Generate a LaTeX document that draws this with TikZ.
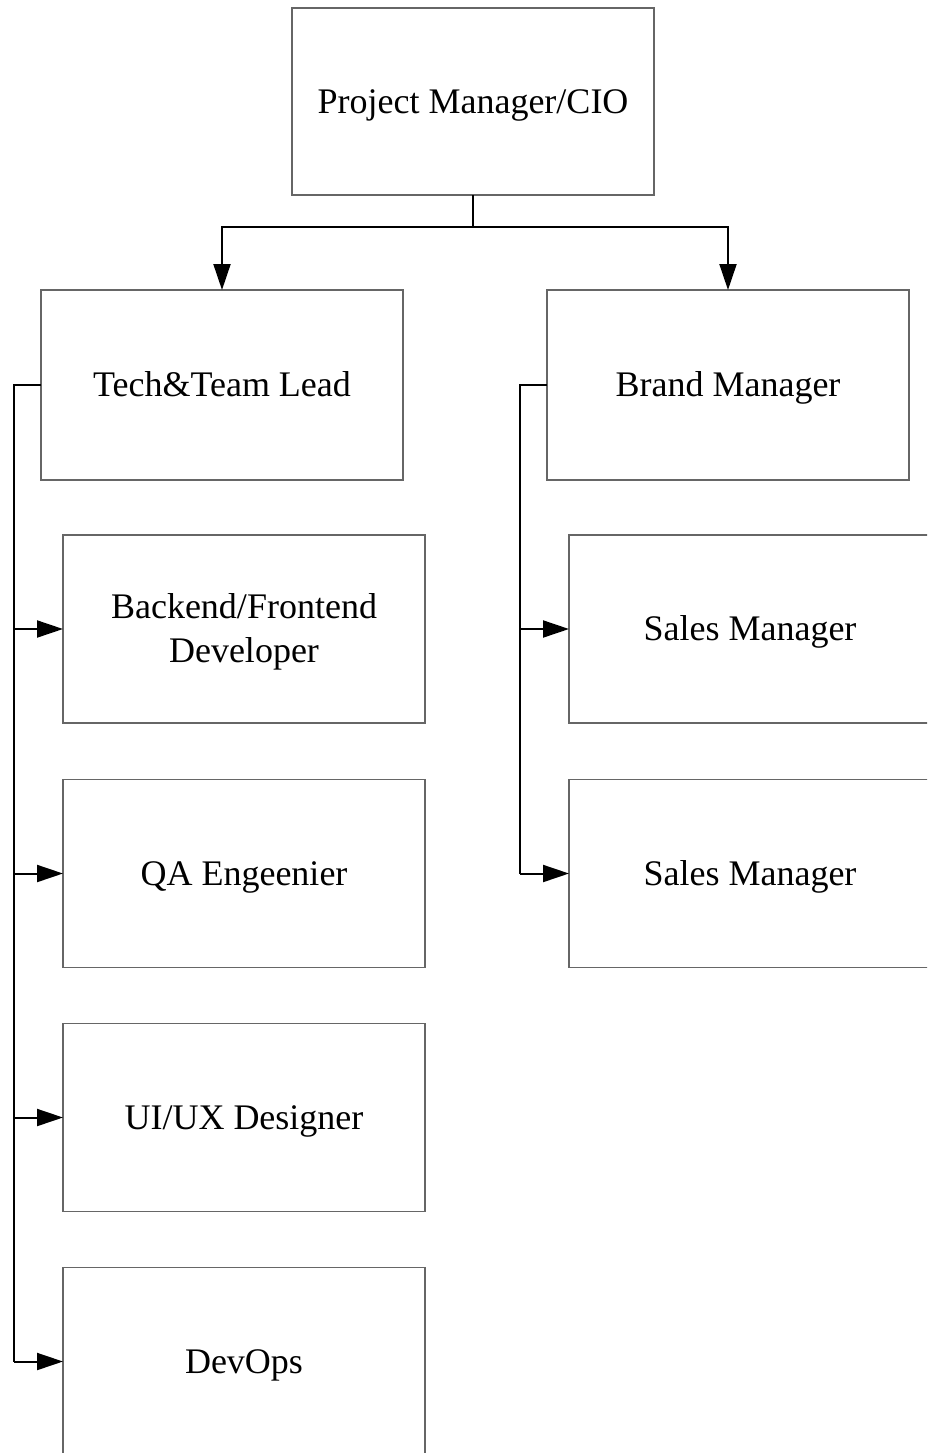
\documentclass[tikz,border=0pt]{standalone}
\usepackage{fontspec}
\setmainfont{Liberation Serif}
\usetikzlibrary{arrows.meta}
\begin{document}
\begin{tikzpicture}[x=1pt,y=-1pt,
  box/.style={draw=black!60, line width=1.2pt, minimum width=362pt, minimum height=188pt,
    inner sep=0pt, outer sep=0pt, align=center,
    font=\fontsize{36}{44}\selectfont, text height=23.8pt, text depth=0pt},
  twoline/.style={text height=67.8pt},
  conn/.style={draw=black, line width=2pt},
  tip/.style={conn, -{Triangle[length=26pt,width=17pt]}}]
\useasboundingbox (0,0) rectangle (927,1453);
\clip (0,0) rectangle (927,1453);

% top level
\node[box, minimum height=187pt] (pm) at (473,101.5) {Project Manager/CIO};

% second level
\node[box, minimum height=190pt] (tl) at (222,385) {Tech\&Team Lead};
\node[box, minimum height=190pt] (bm) at (728,385) {Brand Manager};

% technical team
\node[box, twoline] (be) at (244,629) {Backend/Frontend\\Developer};
\node[box] (qa)  at (244,873.5)  {QA Engeenier};
\node[box] (ux)  at (244,1117.5) {UI/UX Designer};
\node[box] (dev) at (244,1361.5) {DevOps};

% sales team
\node[box] (s1) at (750,629)   {Sales Manager};
\node[box] (s2) at (750,873.5) {Sales Manager};

% top split
\coordinate (split) at (473,227);
\draw[conn] (pm.south) -- (split);
\draw[tip] (split) -| (tl.north);
\draw[tip] (split) -| (bm.north);

% technical branch
\coordinate (ltop) at (14,385);
\coordinate (lbot) at (14,1361.5);
\draw[conn] (tl.west) -- (ltop) -- (lbot);
\draw[tip] (ltop |- be.west) -- (be.west);
\draw[tip] (ltop |- qa.west) -- (qa.west);
\draw[tip] (ltop |- ux.west) -- (ux.west);
\draw[tip] (lbot) -- (dev.west);

% sales branch
\coordinate (rtop) at (520,385);
\coordinate (rbot) at (520,873.5);
\draw[conn] (bm.west) -- (rtop) -- (rbot);
\draw[tip] (rtop |- s1.west) -- (s1.west);
\draw[tip] (rbot) -- (s2.west);
\end{tikzpicture}
\end{document}
